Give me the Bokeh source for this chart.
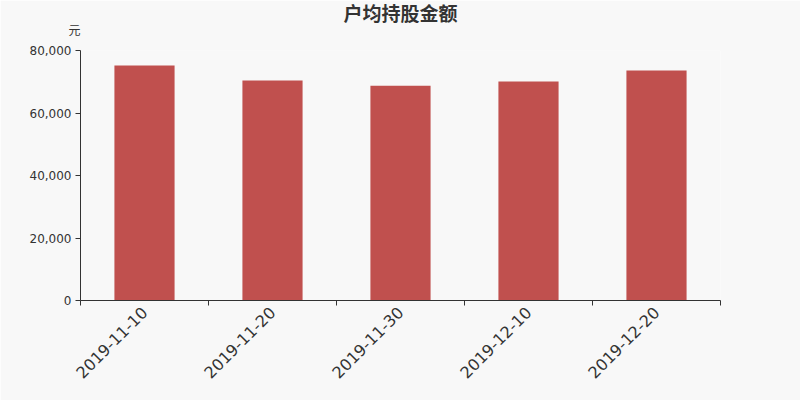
import math
from bokeh.plotting import figure
from bokeh.models import FixedTicker, NumeralTickFormatter, Range1d, Title, ColumnDataSource
from bokeh.embed import file_html
from bokeh.resources import INLINE

title_text = "户均持股金额"
unit_text = "元"
dates = ["2019-11-10", "2019-11-20", "2019-11-30", "2019-12-10", "2019-12-20"]
values = [75200, 70400, 68700, 70100, 73600]
y_ticks = [0, 20000, 40000, 60000, 80000]

BG = "#f8f8f8"
BAR = "#c0504e"
TXT = "#333333"

xs = [i + 0.5 for i in range(len(dates))]
src = ColumnDataSource(dict(x=xs, top=values))

p = figure(width=800, height=400, output_backend="svg", toolbar_location=None,
           x_range=Range1d(0, len(dates)), y_range=Range1d(0, 80000),
           min_border_left=80, min_border_right=80, min_border_top=50, min_border_bottom=100)
p.background_fill_color = BG
p.border_fill_color = BG
p.outline_line_color = None
p.grid.visible = False

p.vbar(x="x", top="top", width=0.47, source=src, fill_color=BAR, line_color=None)

xa = p.xaxis[0]
xa.ticker = FixedTicker(ticks=xs, minor_ticks=list(range(len(dates) + 1)))
xa.major_label_overrides = {x: d for x, d in zip(xs, dates)}
xa.major_label_orientation = math.pi / 4
xa.major_tick_line_color = None
xa.minor_tick_line_color = TXT
xa.minor_tick_out = 5
xa.minor_tick_in = 0
xa.axis_line_color = TXT
xa.major_label_text_font = "DejaVu Sans"
xa.major_label_text_font_size = "16px"
xa.major_label_text_color = TXT
xa.major_label_standoff = 3

ya = p.yaxis[0]
ya.ticker = FixedTicker(ticks=y_ticks)
ya.formatter = NumeralTickFormatter(format="0,0")
ya.minor_tick_line_color = None
ya.major_tick_out = 5
ya.major_tick_in = 0
ya.major_tick_line_color = TXT
ya.axis_line_color = TXT
ya.major_label_text_font = "DejaVu Sans"
ya.major_label_text_font_size = "12px"
ya.major_label_text_color = TXT
ya.major_label_standoff = 4

p.add_layout(Title(text=unit_text, align="left", offset=-12, standoff=26,
                   text_font="Noto Sans CJK SC", text_font_size="12px",
                   text_font_style="normal", text_color=TXT), "above")
p.add_layout(Title(text=title_text, align="center", standoff=-40,
                   text_font="Noto Sans CJK SC", text_font_size="19px",
                   text_font_style="bold", text_color=TXT), "above")

open("out.html", "w").write(file_html(p, INLINE))
